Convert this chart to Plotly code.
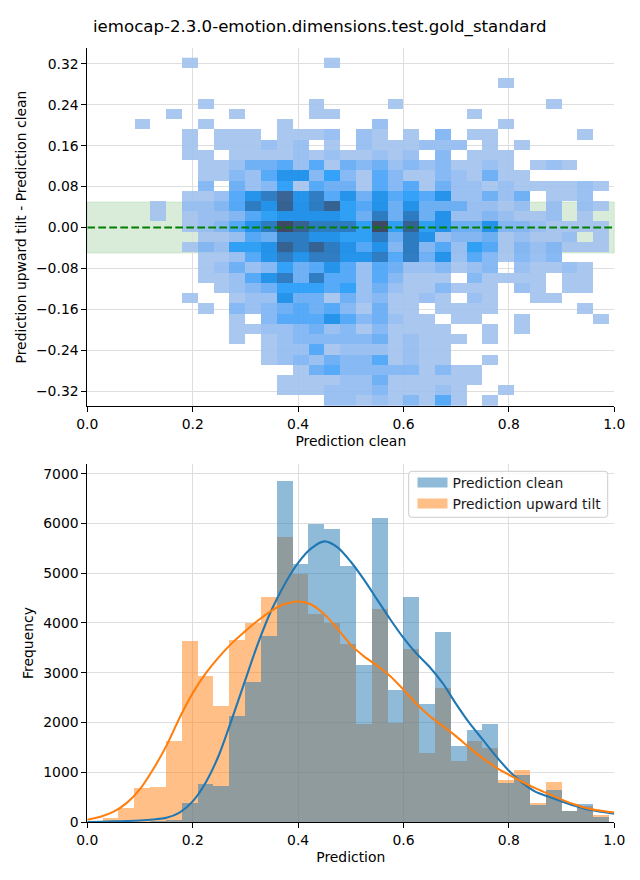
import plotly.graph_objects as go

W, H = 640, 880
TITLE = "iemocap-2.3.0-emotion.dimensions.test.gold_standard"
NAME_A = "Prediction clean"
NAME_B = "Prediction upward tilt"

bin_start = 0.0297
bin_width = 0.03003
n_bins = 32
x_edges = [bin_start + i * bin_width for i in range(n_bins + 1)]
x_centers = [(x_edges[i] + x_edges[i + 1]) / 2 for i in range(n_bins)]
y_edges = [-0.349 + i * 0.02003 for i in range(35)]

clean_counts = [5, 5, 10, 15, 45, 388, 770, 730, 2135, 2818, 3741, 6853, 5187, 5990, 5890, 5147,
                3159, 6110, 2657, 4525, 2376, 3822, 1533, 1854, 1974, 790, 950, 348, 649, 228, 368, 94]
tilt_counts = [87, 290, 690, 710, 1633, 3640, 2938, 2336, 3660, 4000, 4525, 5730, 4986, 4183, 4002, 3580,
               1974, 4283, 1994, 3480, 1392, 2697, 1231, 1633, 1492, 850, 1050, 388, 810, 228, 320, 147]

kde_x = [0, .025, .05, .075, .1, .125, .15, .175, .2, .225, .25, .275, .3, .325, .35, .375, .4, .425, .45, .475, .5,
         .525, .55, .575, .6, .625, .65, .675, .7, .725, .75, .775, .8, .825, .85, .875, .9, .925, .95, .975, 1.0]
kde_clean = [0, 5, 13, 20, 30, 50, 85, 190, 415, 800, 1352, 2088, 2860, 3620, 4270, 4790, 5210, 5500, 5640, 5520, 5230,
             4870, 4470, 4070, 3700, 3380, 3110, 2780, 2370, 1990, 1660, 1330, 1030, 790, 610, 510, 415, 325, 250, 205, 167]
kde_tilt = [47, 105, 207, 385, 660, 1060, 1530, 2090, 2590, 2990, 3320, 3600, 3840, 4060, 4250, 4380, 4430, 4370, 4170, 3880, 3560,
            3330, 3140, 2930, 2660, 2370, 2125, 1925, 1720, 1495, 1285, 1100, 950, 810, 680, 565, 450, 350, 270, 225, 190]

# Density level per cell, rows from the top of the panel, 0 = empty
density_rows = [
    [0,0,0,0,0,1,0,0,0,0,0,0,0,0,1,0, 0,0,0,0,0,0,0,0,0,0,0,0,0,0,0,0],
    [0]*32,
    [0,0,0,0,0,0,0,0,0,0,0,0,0,0,0,0, 0,0,0,0,0,0,0,0,0,1,0,0,0,0,0,0],
    [0]*32,
    [0,0,0,0,0,0,1,0,0,0,0,0,0,1,0,0, 0,0,1,0,0,0,0,0,0,0,0,0,1,0,0,0],
    [0,0,0,0,1,0,0,0,1,0,0,0,0,1,1,0, 0,0,0,0,0,0,0,1,0,0,0,0,0,0,0,0],
    [0,0,1,0,0,0,1,0,0,0,0,1,0,0,0,0, 0,2,0,0,0,0,0,0,0,1,0,0,0,0,0,0],
    [0,0,0,0,0,1,0,1,1,1,0,1,1,1,2,0, 2,1,0,1,0,3,0,1,1,0,0,0,0,0,1,0],
    [0,0,0,0,0,1,0,1,1,1,2,1,2,0,1,0, 2,1,1,1,2,2,2,0,1,0,1,0,0,0,0,0],
    [0,0,0,0,0,1,1,0,1,1,1,1,2,1,2,1, 1,2,1,2,0,3,0,1,1,1,0,0,0,0,0,0],
    [0,0,0,0,0,0,1,1,2,4,4,5,2,5,1,4, 3,4,2,3,2,3,1,1,2,1,0,1,2,1,0,0],
    [0,0,0,0,0,0,1,1,3,2,5,7,7,3,6,3, 1,5,3,1,1,3,2,1,4,1,1,0,0,0,0,0],
    [0,0,0,0,0,0,3,0,4,2,3,6,1,5,4,4, 1,5,3,5,1,4,2,2,1,2,1,1,1,1,2,1],
    [0,0,0,0,0,1,1,2,5,7,8,9,7,8,5,7, 4,7,5,6,5,7,2,2,4,2,4,0,1,1,2,0],
    [0,0,0,1,0,2,2,3,5,8,7,9,7,8,9,6, 5,7,4,7,4,4,4,2,2,1,2,0,2,0,2,1],
    [0,0,0,1,0,1,2,2,3,5,6,7,7,7,7,6, 4,8,4,8,4,7,2,2,3,2,1,1,2,0,1,0],
    [0,0,0,0,0,1,2,3,5,7,8,10,9,8,8,8, 6,10,6,9,6,7,4,4,7,3,3,2,1,1,1,1],
    [0,0,0,0,0,0,1,1,2,5,4,8,8,7,7,6, 6,8,4,8,7,2,3,3,4,1,2,1,1,2,0,1],
    [0,0,0,0,0,1,3,2,6,6,7,9,8,9,8,7, 5,7,3,8,3,5,2,6,5,1,3,2,3,1,1,1],
    [0,0,0,0,0,0,1,1,2,5,7,8,7,8,8,7, 7,8,5,8,4,7,2,5,3,1,3,2,3,0,0,0],
    [0,0,0,0,0,0,1,2,4,2,3,6,4,5,7,5, 2,5,4,2,2,3,1,2,3,0,2,1,1,2,1,0],
    [0,0,0,0,0,0,1,1,2,5,7,8,4,8,5,5, 2,5,3,1,1,1,0,3,1,1,1,1,0,1,1,0],
    [0,0,0,0,0,0,0,1,2,3,4,6,6,6,5,6, 2,4,2,1,1,3,1,1,1,0,2,1,0,1,1,0],
    [0,0,0,0,0,1,0,0,1,2,2,7,4,4,1,4, 2,3,1,1,2,1,0,2,1,0,0,1,1,0,0,0],
    [0,0,0,0,0,0,1,0,3,2,3,4,5,4,5,3, 1,4,1,1,0,1,1,1,1,0,0,0,0,0,1,0],
    [0,0,0,0,0,0,0,0,1,0,3,5,5,5,7,5, 3,4,2,1,1,0,1,1,0,0,1,0,0,0,0,1],
    [0,0,0,0,0,0,0,0,1,1,2,2,3,4,2,3, 1,3,1,1,1,1,0,0,1,0,1,0,0,0,0,0],
    [0,0,0,0,0,0,0,0,1,0,1,2,3,3,3,3, 3,4,1,2,1,1,1,0,1,0,0,0,0,0,0,0],
    [0,0,0,0,0,0,0,0,0,0,1,2,2,5,1,2, 2,2,1,2,1,1,0,0,0,0,0,0,0,0,0,0],
    [0,0,0,0,0,0,0,0,0,0,1,2,3,2,4,3, 3,5,1,2,1,1,0,0,1,0,0,0,0,0,0,0],
    [0,0,0,0,0,0,0,0,0,0,0,0,1,4,5,3, 3,3,3,3,1,3,1,1,0,0,0,0,0,0,0,0],
    [0,0,0,0,0,0,0,0,0,0,0,1,1,1,1,2, 2,4,1,1,1,1,1,1,0,0,0,0,0,0,0,0],
    [0,0,0,0,0,0,0,0,0,0,0,1,1,1,2,2, 2,3,1,1,1,2,1,0,0,1,0,0,0,0,0,0],
    [0,0,0,0,0,0,0,0,0,0,0,0,0,0,2,2, 1,2,1,3,1,5,1,0,1,0,0,0,0,0,0,0],
]

x_ticks = [0.0, 0.2, 0.4, 0.6, 0.8, 1.0]
y_ticks_top = [-0.32, -0.24, -0.16, -0.08, 0.0, 0.08, 0.16, 0.24, 0.32]
y_ticks_bottom = [0, 1000, 2000, 3000, 4000, 5000, 6000, 7000]
band_half = 0.05

# rendered colour per level, converted for a slightly translucent layer so the grid shows through
level_colors = [(170, 199, 240), (155, 193, 242), (135, 185, 244), (112, 177, 246), (88, 170, 248),
                (52, 162, 248), (40, 148, 235), (48, 125, 195), (58, 100, 150), (65, 75, 105)]
ALPHA = 0.9
def src(c):
    return "rgba(%d,%d,%d,%.2f)" % (*[max(0, round((v - (1 - ALPHA) * 255) / ALPHA)) for v in c], ALPHA)
colorscale = [[i / (len(level_colors) - 1), src(c)] for i, c in enumerate(level_colors)]

z = [[v if v else None for v in row] for row in reversed(density_rows)]

BLUE, ORANGE = "#1f77b4", "#ff7f0e"
BLUE_A, ORANGE_A = "rgba(31,119,180,0.5)", "rgba(255,127,14,0.5)"

fig = go.Figure()
fig.add_trace(go.Heatmap(x=x_edges, y=y_edges, z=z, colorscale=colorscale, zmin=1, zmax=10,
                         showscale=False, xaxis="x", yaxis="y", hoverinfo="skip"))
fig.add_trace(go.Scatter(x=[0, 1], y=[0, 0], mode="lines", showlegend=False, xaxis="x", yaxis="y",
                         line=dict(color="green", width=2.08, dash="7.7px,3.3px")))

fig.add_trace(go.Bar(x=x_centers, y=tilt_counts, width=bin_width, marker=dict(color=ORANGE_A, line=dict(width=0)),
                     showlegend=False, xaxis="x2", yaxis="y2"))
fig.add_trace(go.Bar(x=x_centers, y=clean_counts, width=bin_width, marker=dict(color=BLUE_A, line=dict(width=0)),
                     showlegend=False, xaxis="x2", yaxis="y2"))
fig.add_trace(go.Scatter(x=kde_x, y=kde_clean, mode="lines", line=dict(color=BLUE, width=2.08, shape="spline", smoothing=0.8),
                         showlegend=False, xaxis="x2", yaxis="y2"))
fig.add_trace(go.Scatter(x=kde_x, y=kde_tilt, mode="lines", line=dict(color=ORANGE, width=2.08, shape="spline", smoothing=0.8),
                         showlegend=False, xaxis="x2", yaxis="y2"))
for name, col in ((NAME_A, BLUE_A), (NAME_B, ORANGE_A)):
    fig.add_trace(go.Scatter(x=[None], y=[None], mode="lines", name=name, line=dict(color=col, width=10),
                             xaxis="x2", yaxis="y2"))

# legend frame in page pixels
def py(p):
    return 1 - p / H
def px(p):
    return p / W
L, R, T, B = 408.7, 607.7, 471.3, 517.3
rx, ry = 3 / W, 3 / H
frame_path = (f"M{px(L)+rx},{py(T)} L{px(R)-rx},{py(T)} Q{px(R)},{py(T)} {px(R)},{py(T)-ry} "
              f"L{px(R)},{py(B)+ry} Q{px(R)},{py(B)} {px(R)-rx},{py(B)} "
              f"L{px(L)+rx},{py(B)} Q{px(L)},{py(B)} {px(L)},{py(B)+ry} "
              f"L{px(L)},{py(T)-ry} Q{px(L)},{py(T)} {px(L)+rx},{py(T)} Z")

FONT = "DejaVu Sans"
axis_common = dict(showline=True, linecolor="black", linewidth=1.1, ticks="outside", ticklen=4.9, tickwidth=1.1,
                   tickcolor="black", showgrid=True, gridcolor="#dedede", gridwidth=1.2, zeroline=False,
                   tickfont=dict(size=13.9, color="black", family=FONT), automargin=False)
dom_x = [87.3 / W, 614.3 / W]
fig.update_layout(
    width=W, height=H, margin=dict(l=0, r=0, t=0, b=0), paper_bgcolor="white", plot_bgcolor="white",
    font=dict(family=FONT, size=13.9, color="black"), barmode="overlay", bargap=0,
    xaxis=dict(axis_common, domain=dom_x, range=[0, 1], tickvals=x_ticks, tickformat=".1f", anchor="y",
               title=dict(text="Prediction clean", standoff=5, font=dict(size=13.9))),
    yaxis=dict(axis_common, domain=[1 - 406 / H, 1 - 48 / H], range=[-0.349, 0.351], tickvals=y_ticks_top,
               tickformat=".2f", anchor="x",
               title=dict(text="Prediction upward tilt - Prediction clean", standoff=6, font=dict(size=13.9))),
    xaxis2=dict(axis_common, domain=dom_x, range=[0, 1], tickvals=x_ticks, tickformat=".1f", anchor="y2",
                title=dict(text="Prediction", standoff=5, font=dict(size=13.9))),
    yaxis2=dict(axis_common, domain=[1 - 822 / H, 1 - 464 / H], range=[0, 7195], tickvals=y_ticks_bottom,
                tickformat="d", anchor="x2",
                title=dict(text="Frequency", standoff=6, font=dict(size=13.9))),
    legend=dict(x=px(412.5), xanchor="left", y=py(467), yanchor="top", bgcolor="rgba(0,0,0,0)",
                borderwidth=0, font=dict(size=13.9, color="#1a1a1a", family=FONT),
                itemwidth=30, tracegroupgap=0),
    shapes=[dict(type="rect", xref="x domain", yref="y", x0=0, x1=1, y0=-band_half, y1=band_half, layer="below",
                 fillcolor="rgba(0,128,0,0.15)", line=dict(color="rgba(0,128,0,0.12)", width=1)),
            dict(type="path", xref="paper", yref="paper", path=frame_path, layer="above",
                 fillcolor="rgba(255,255,255,0.8)", line=dict(color="#cccccc", width=1))],
    annotations=[dict(text=TITLE, xref="paper", yref="paper", x=0.5, y=1 - 26.5 / H, xanchor="center", yanchor="middle",
                      showarrow=False, font=dict(size=16.6, color="black", family=FONT))],
)
fig.write_html("out.html", config=dict(displayModeBar=False), post_script="document.body.style.margin='0';")
